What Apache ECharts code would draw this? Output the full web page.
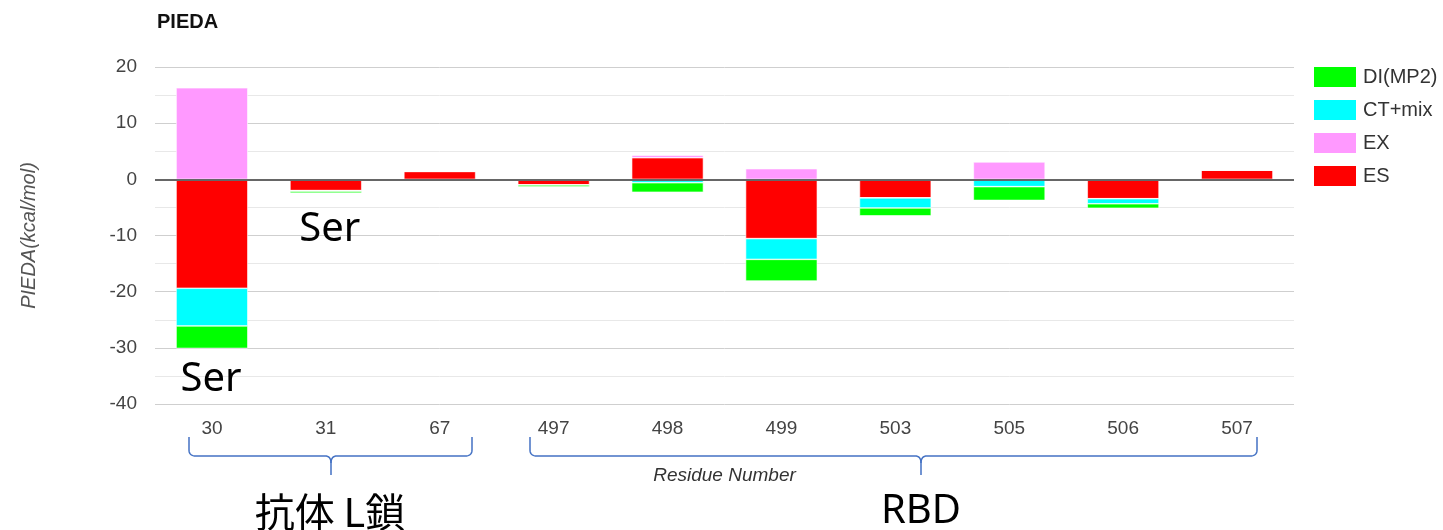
<!DOCTYPE html>
<html>
<head>
<meta charset="utf-8">
<script src="https://cdn.jsdelivr.net/npm/echarts@6/dist/echarts.min.js"></script>
<style>
html,body{margin:0;padding:0;background:#fff;}
#c{width:1443px;height:530px;}
</style>
</head>
<body>
<div id="c"></div>
<script>
// ---- data ----
const categories = ['30', '31', '67', '497', '498', '499', '503', '505', '506', '507'];
const ES = [-19.4, -2.0, 1.4, -1.0, 3.85, -10.55, -3.3, 0, -3.45, 1.65];
const EX = [16.3, 0, 0, 0, 0.45, 1.9, 0, 3.1, 0, 0];
const CT = [-6.7, -0.1, 0, 0, -0.6, -3.7, -1.8, -1.3, -0.9, 0];
const DI = [-4.0, -0.35, -0.1, -0.35, -1.7, -3.85, -1.4, -2.45, -0.8, 0];
const yTicks = { min: -40, max: 20, interval: 10 };
const legendOrder = ['DI(MP2)', 'CT+mix', 'EX', 'ES'];

const colors = { 'DI(MP2)': '#00ff00', 'CT+mix': '#00ffff', 'EX': '#ff99ff', 'ES': '#ff0000' };
const FONT = '"Liberation Sans", Arial, sans-serif';

const chart = echarts.init(document.getElementById('c'), null, { renderer: 'canvas' });

function barSeries(name, data, extra) {
  return Object.assign({
    name: name,
    type: 'bar',
    stack: 'total',
    barWidth: '63%',
    data: data,
    itemStyle: { color: colors[name], borderColor: '#ffffff', borderWidth: 0.6 },
    emphasis: { disabled: true }
  }, extra || {});
}

chart.setOption({
  animation: false,
  backgroundColor: '#ffffff',
  title: {
    text: 'PIEDA',
    left: 157,
    top: 12,
    padding: 0,
    textStyle: { fontFamily: FONT, fontSize: 20, fontWeight: 'bold', color: '#111' }
  },
  legend: {
    orient: 'vertical',
    left: 1314,
    top: 67,
    padding: 0,
    itemWidth: 42,
    itemHeight: 20,
    itemGap: 13,
    icon: 'rect',
    data: legendOrder,
    itemStyle: { borderWidth: 0 },
    textStyle: { fontFamily: FONT, fontSize: 20, color: '#333', padding: [0, 0, 0, 2] }
  },
  grid: { left: 155, right: 149, top: 67, bottom: 126, containLabel: false },
  xAxis: {
    type: 'category',
    data: categories,
    name: 'Residue Number',
    nameLocation: 'middle',
    nameGap: 62,
    nameTextStyle: { fontFamily: FONT, fontSize: 19, fontStyle: 'italic', color: '#333' },
    axisLine: { show: false, onZero: false },
    axisTick: { show: false },
    axisLabel: { fontFamily: FONT, fontSize: 19, color: '#444', margin: 15 },
    splitLine: { show: false }
  },
  yAxis: {
    type: 'value',
    min: yTicks.min,
    max: yTicks.max,
    interval: yTicks.interval,
    name: 'PIEDA(kcal/mol)',
    nameLocation: 'middle',
    nameGap: 116,
    nameTextStyle: { fontFamily: FONT, fontSize: 20, fontStyle: 'italic', color: '#555' },
    axisLine: { show: false },
    axisTick: { show: false },
    axisLabel: { fontFamily: FONT, fontSize: 19, color: '#444', margin: 18 },
    splitLine: { show: true, lineStyle: { color: '#cfcfcf', width: 1 } },
    minorTick: { show: false, splitNumber: 2 },
    minorSplitLine: { show: true, lineStyle: { color: '#e8e8e8', width: 1 } }
  },
  series: [
    barSeries('ES', ES, {
      markLine: {
        silent: true,
        symbol: ['none', 'none'],
        label: { show: false },
        lineStyle: { color: '#666', width: 2, type: 'solid' },
        data: [{ yAxis: 0 }],
        z: 10
      }
    }),
    barSeries('EX', EX),
    barSeries('CT+mix', CT),
    barSeries('DI(MP2)', DI)
  ]
});

// ---- annotations anchored to the category axis ----
function cx(cat) { return chart.convertToPixel({ xAxisIndex: 0 }, cat); }
function py(v) { return chart.convertToPixel({ yAxisIndex: 0 }, v); }

function quad(pts, p0, c, p1) {
  for (let i = 1; i <= 8; i++) {
    const t = i / 8, u = 1 - t;
    pts.push([u * u * p0[0] + 2 * u * t * c[0] + t * t * p1[0], u * u * p0[1] + 2 * u * t * c[1] + t * t * p1[1]]);
  }
}
// two polylines: left half and right half of a curly brace
function brace(x1, x2, tip, yTop, yMid, yTip) {
  const a = [[x1, yTop], [x1, yMid - 6]];
  quad(a, [x1, yMid - 6], [x1, yMid], [x1 + 7, yMid]);
  a.push([tip - 6, yMid]);
  quad(a, [tip - 6, yMid], [tip, yMid], [tip, yMid + 7]);
  a.push([tip, yTip]);
  const b = [[tip, yMid + 7]];
  quad(b, [tip, yMid + 7], [tip, yMid], [tip + 6, yMid]);
  b.push([x2 - 7, yMid]);
  quad(b, [x2 - 7, yMid], [x2, yMid], [x2, yMid - 6]);
  b.push([x2, yTop]);
  const st = { fill: 'none', stroke: '#4472C4', lineWidth: 1.5 };
  return [
    { type: 'polyline', silent: true, shape: { points: a }, style: st },
    { type: 'polyline', silent: true, shape: { points: b }, style: st }
  ];
}

const yBottom = py(yTicks.min);
const bTop = yBottom + 33, bMid = yBottom + 52, bTip = yBottom + 71;
const lx1 = Math.round(cx('30') - 23), lx2 = Math.round(cx('67') + 32), ltip = Math.round((lx1 + lx2) / 2);
const rx1 = Math.round(cx('497') - 24), rx2 = Math.round(cx('507') + 20), rtip = Math.round((cx('503') + cx('505')) / 2 - 31);

const bigFont = '40px "Noto Sans", "Noto Sans CJK JP", sans-serif';
const cjkFont = '40px "Noto Sans CJK JP", sans-serif';

const graphics = []
  .concat(brace(lx1, lx2, ltip, bTop, bMid, bTip))
  .concat(brace(rx1, rx2, rtip, bTop, bMid, bTip))
  .concat([
    { type: 'text', silent: true, style: { text: 'Ser', x: cx('30') - 1, y: py(-30) + 32, font: bigFont, fill: '#000', align: 'center', verticalAlign: 'middle' } },
    { type: 'text', silent: true, style: { text: 'Ser', x: cx('31') + 4, y: py(-2) + 39, font: bigFont, fill: '#000', align: 'center', verticalAlign: 'middle' } },
    { type: 'text', silent: true, style: { text: '抗体 L鎖', x: ltip - 1, y: yBottom + 108, font: cjkFont, fill: '#000', align: 'center', verticalAlign: 'middle' } },
    { type: 'text', silent: true, style: { text: 'RBD', x: rtip, y: yBottom + 108, font: bigFont, fill: '#000', align: 'center', verticalAlign: 'middle' } }
  ]);

chart.setOption({ graphic: graphics });
</script>
</body>
</html>
